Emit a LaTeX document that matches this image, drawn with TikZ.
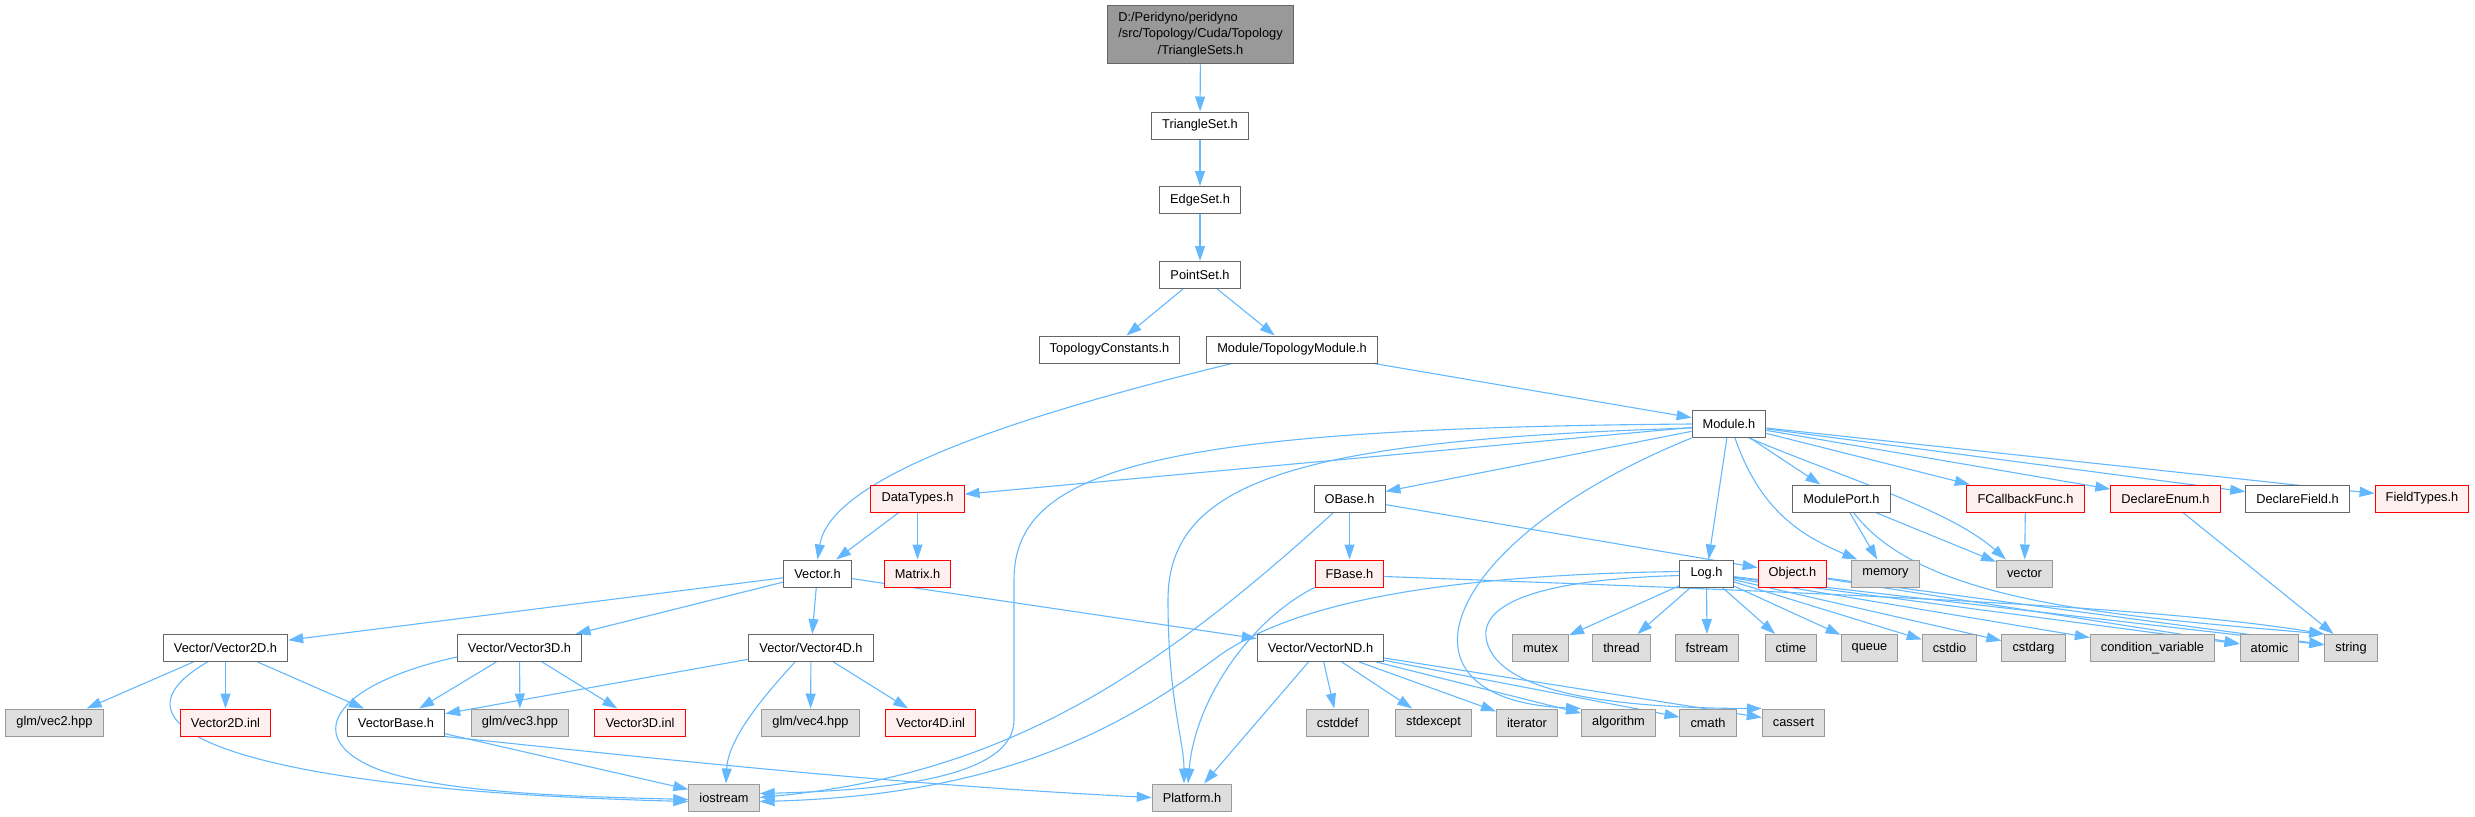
\documentclass[tikz,border=0pt]{standalone}
\usepackage{fontspec}
\setsansfont{Liberation Sans}
\usetikzlibrary{arrows.meta, backgrounds}

\definecolor{grey40}{HTML}{666666}
\definecolor{grey60}{HTML}{999999}
\definecolor{grey87}{HTML}{DEDEDE}
\definecolor{pinkbg}{HTML}{FFF0F0}
\definecolor{steelblue}{HTML}{63B8FF}

\begin{document}
\begin{tikzpicture}[x=0.5pt, y=-0.5pt, font=\sffamily\fontsize{6.4}{8.15}\selectfont]

  % Define styles
  \tikzset{
    file/.style={draw=grey40, fill=white, line width=0.5pt, inner xsep=5.3pt, inner ysep=2pt, minimum height=13.5pt},
    extfile/.style={file, draw=red, fill=pinkbg},
    sysfile/.style={file, draw=grey60, fill=grey87},
    rootfile/.style={file, fill=grey60, inner ysep=2.5pt},
    incl/.style={-{Triangle[length=7.5pt,width=5pt]}, line width=0.55pt, color=steelblue}
  }

  \useasboundingbox (0,0) rectangle (2475,816);

%% Top chain
  \node[rootfile] (root) at (1200.5,34.5)
    {\begin{tabular}{@{}l@{}}D:/Peridyno/peridyno\\/src/Topology/Cuda/Topology\\\multicolumn{1}{@{}c@{}}{/TriangleSets.h}\end{tabular}};
  \node[file] (tset) at (1200,125.5) {TriangleSet.h};
  \node[file] (eset) at (1200,200) {EdgeSet.h};
  \node[file] (pset) at (1200,275) {PointSet.h};
  \node[file] (tconst) at (1109.5,349.5) {TopologyConstants.h};
  \node[file] (tmod) at (1292,349.5) {Module/TopologyModule.h};
  \node[file] (mod) at (1729,424) {Module.h};

%% Row below Module.h
  \node[extfile] (dtypes) at (917.5,498.5) {DataTypes.h};
  \node[file] (obase) at (1349.5,498.5) {OBase.h};
  \node[file] (mport) at (1841.5,498.5) {ModulePort.h};
  \node[extfile] (fcb) at (2025.5,498.5) {FCallbackFunc.h};
  \node[extfile] (denum) at (2165.5,498.5) {DeclareEnum.h};
  \node[file] (dfield) at (2297.5,498.5) {DeclareField.h};
  \node[extfile] (ftypes) at (2422,498.5) {FieldTypes.h};

%% Vector.h row
  \node[file] (vec) at (817.5,573.5) {Vector.h};
  \node[extfile] (matrix) at (917.5,573.5) {Matrix.h};
  \node[extfile] (fbase) at (1349.5,573.5) {FBase.h};
  \node[file] (log) at (1706.5,573.5) {Log.h};
  \node[extfile] (object) at (1792.5,573.5) {Object.h};
  \node[sysfile] (memory) at (1885.5,573.5) {memory};
  \node[sysfile] (vector) at (2024.5,573.5) {vector};

%% Vector types and std headers
  \node[file] (v2d) at (225.5,648) {Vector/Vector2D.h};
  \node[file] (v3d) at (519.5,648) {Vector/Vector3D.h};
  \node[file] (v4d) at (811,648) {Vector/Vector4D.h};
  \node[file] (vnd) at (1320.5,648) {Vector/VectorND.h};
  \node[sysfile] (mutex) at (1540.5,648) {mutex};
  \node[sysfile] (thread) at (1621.5,648) {thread};
  \node[sysfile] (fstream) at (1707,648) {fstream};
  \node[sysfile] (ctime) at (1791,648) {ctime};
  \node[sysfile] (queue) at (1869.5,648) {queue};
  \node[sysfile] (cstdio) at (1949.5,648) {cstdio};
  \node[sysfile] (cstdarg) at (2033.5,648) {cstdarg};
  \node[sysfile] (condvar) at (2152.5,648) {condition\_variable};
  \node[sysfile] (atomic) at (2269.5,648) {atomic};
  \node[sysfile] (string) at (2351,648) {string};

%% Leaf row
  \node[sysfile] (vec2) at (54.5,722.5) {glm/vec2.hpp};
  \node[extfile] (v2inl) at (225.5,722.5) {Vector2D.inl};
  \node[file] (vbase) at (396,722.5) {VectorBase.h};
  \node[sysfile] (vec3) at (520,722.5) {glm/vec3.hpp};
  \node[extfile] (v3inl) at (640,722.5) {Vector3D.inl};
  \node[sysfile] (vec4) at (810.5,722.5) {glm/vec4.hpp};
  \node[extfile] (v4inl) at (930.5,722.5) {Vector4D.inl};
  \node[sysfile] (cstddef) at (1337.5,722.5) {cstddef};
  \node[sysfile] (stdexcept) at (1433.5,722.5) {stdexcept};
  \node[sysfile] (iterator) at (1527,722.5) {iterator};
  \node[sysfile] (algorithm) at (1618.5,722.5) {algorithm};
  \node[sysfile] (cmath) at (1708,722.5) {cmath};
  \node[sysfile] (cassert) at (1793.5,722.5) {cassert};

  \node[sysfile] (ios) at (724,797.5) {iostream};
  \node[sysfile] (plat) at (1192,797.5) {Platform.h};

\begin{scope}[on background layer]
  % Top chain
  \draw[incl] (root) -- (tset);
  \draw[incl] (tset) -- (eset);
  \draw[incl] (eset) -- (pset);
  \draw[incl] (pset) -- (tconst);
  \draw[incl] (pset) -- (tmod);
  \draw[incl] (tmod) -- (mod);
  \draw[incl] ([xshift=-30pt]tmod.south) .. controls (1000,420) and (830,480) .. (vec.north);

  % Module.h
  \draw[incl] (mod.west) .. controls (1150,428) and (1014,470) .. (1014,580)
    -- (1014,720) .. controls (1014,775) and (900,790) .. ([yshift=2pt]ios.east);
  \draw[incl] (mod) -- (dtypes);
  \draw[incl] ([yshift=-2pt]mod.west) .. controls (1300,440) and (1168,480) .. (1168,600)
    .. controls (1168,700) and (1184,740) .. ([xshift=-4pt]plat.north);
  \draw[incl] (mod) -- (obase);
  \draw[incl] (mod.south west) .. controls (1440,540) and (1380,700) .. (algorithm.north west);
  \draw[incl] (mod) -- (log);
  \draw[incl] ([xshift=3pt]mod.south) .. controls (1760,510) and (1800,535) .. ([xshift=3pt]memory.north west);
  \draw[incl] (mod) -- (mport);
  \draw[incl] ([xshift=10pt]mod.south) .. controls (1850,480) and (1950,510) .. ([xshift=5pt]vector.north west);
  \foreach \dst in {fcb, denum, dfield, ftypes}
    \draw[incl] (mod) -- (\dst);

  % DataTypes.h and Vector.h
  \draw[incl] (dtypes) -- (vec);
  \draw[incl] (dtypes) -- (matrix);
  \foreach \dst in {v2d, v3d, v4d, vnd}
    \draw[incl] (vec) -- (\dst);

  % Vector2D.h
  \foreach \dst in {vec2, v2inl, vbase}
    \draw[incl] (v2d) -- (\dst);
  \draw[incl] ([xshift=-9pt]v2d.south) .. controls (90,730) and (250,790) .. ([yshift=-2pt]ios.west);

  % Vector3D.h
  \foreach \dst in {vbase, vec3, v3inl}
    \draw[incl] (v3d) -- (\dst);
  \draw[incl] ([yshift=-4.5pt]v3d.west) .. controls (330,685) and (300,740) .. (380,770)
    .. controls (450,795) and (600,797) .. ([yshift=-1pt]ios.west);

  % Vector4D.h
  \foreach \dst in {vbase, vec4, v4inl}
    \draw[incl] (v4d) -- (\dst);
  \draw[incl] ([xshift=-8pt]v4d.south) .. controls (760,700) and (728,740) .. ([xshift=1pt]ios.north);

  % VectorBase.h
  \draw[incl] (vbase) -- (ios);
  \draw[incl] (vbase.south east) .. controls (650,758) and (900,785) .. (plat.west);

  % VectorND.h
  \foreach \dst in {plat, cstddef, stdexcept, iterator, algorithm, cmath, cassert}
    \draw[incl] (vnd) -- (\dst);

  % OBase.h and FBase.h
  \draw[incl] (obase) -- (fbase);
  \draw[incl] (obase) -- (object);
  \draw[incl] ([xshift=-8pt]obase.south) .. controls (1150,680) and (1000,775) .. (ios.east);
  \draw[incl] (fbase.south west) .. controls (1250,620) and (1195,700) .. ([xshift=-2pt]plat.north);
  \draw[incl] ([yshift=-1.5pt]fbase.east) .. controls (1800,592) and (2150,605) .. (string.north west);

  % Log.h
  \foreach \dst in {mutex, thread, fstream, ctime, queue, cstdio, cstdarg, condvar, atomic, string}
    \draw[incl] (log) -- (\dst);
  \draw[incl] ([yshift=1pt]log.west) .. controls (1450,575) and (1300,600) .. (1220,655)
    .. controls (1120,730) and (1000,795) .. ([yshift=-2pt]ios.east);
  \draw[incl] ([yshift=-1pt]log.west) .. controls (1520,580) and (1470,610) .. (1490,650)
    .. controls (1510,690) and (1600,708) .. (cassert.north west);

  % Object.h, ModulePort.h and the rest
  \draw[incl] (object) -- (atomic);
  \draw[incl] (object) -- (string);
  \draw[incl] (mport) -- (memory);
  \draw[incl] (mport) -- (vector);
  \draw[incl] ([xshift=6pt]mport.south) .. controls (1920,600) and (2100,615) .. (string.north west);
  \draw[incl] (fcb) -- (vector);
  \draw[incl] (denum) -- (string);
\end{scope}

\end{tikzpicture}
\end{document}
